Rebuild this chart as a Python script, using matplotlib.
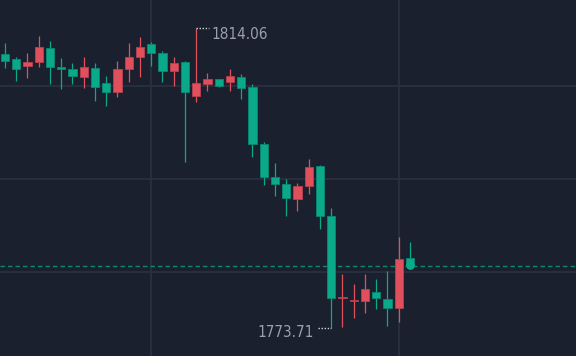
import numpy as np
import matplotlib
matplotlib.use("Agg")
import matplotlib.pyplot as plt
from matplotlib.patches import Rectangle

# OHLC candles (green = falling, red = rising)
opens = [1810.56, 1809.89, 1808.95, 1809.49, 1811.37, 1808.81, 1808.55, 1807.47, 1808.68, 1806.66,
         1805.45, 1808.55, 1810.16, 1811.91, 1810.70, 1808.28, 1809.49, 1804.91, 1806.53, 1807.20,
         1806.80, 1807.47, 1806.12, 1798.46, 1794.02, 1793.08, 1791.06, 1792.81, 1795.50, 1788.77,
         1777.75, 1777.34, 1777.34, 1778.55, 1777.61, 1776.40, 1783.13]
highs = [1812.04, 1810.16, 1810.70, 1812.98, 1812.31, 1810.03, 1809.35, 1810.16, 1809.35, 1807.60,
         1809.62, 1812.04, 1812.85, 1812.18, 1810.97, 1810.16, 1809.62, 1814.06, 1808.01, 1807.20,
         1808.55, 1807.87, 1806.53, 1798.73, 1795.90, 1793.75, 1793.21, 1796.44, 1795.63, 1789.85,
         1780.97, 1779.63, 1780.97, 1780.30, 1781.38, 1785.95, 1785.28]
lows = [1808.68, 1806.93, 1807.34, 1808.81, 1806.53, 1805.86, 1806.53, 1805.99, 1804.24, 1803.57,
        1804.78, 1806.80, 1807.47, 1808.95, 1806.80, 1806.26, 1796.04, 1804.11, 1805.59, 1806.12,
        1805.59, 1804.51, 1796.71, 1792.94, 1791.46, 1788.77, 1789.45, 1791.73, 1787.03, 1773.71,
        1773.84, 1775.06, 1775.73, 1776.27, 1773.98, 1774.52, 1782.00]
closes = [1809.62, 1808.55, 1809.49, 1811.50, 1808.81, 1808.55, 1807.60, 1808.81, 1806.12, 1805.45,
          1808.55, 1810.16, 1811.50, 1810.70, 1808.28, 1809.35, 1805.45, 1806.66, 1807.20, 1806.26,
          1807.60, 1805.99, 1798.46, 1794.02, 1793.08, 1791.20, 1792.81, 1795.36, 1788.77, 1777.75,
          1777.80, 1777.48, 1778.96, 1777.75, 1776.40, 1782.99, 1782.00]
grid_prices = [1806.25, 1793.75, 1781.25]
grid_bars = [13, 35]

bg = '#1b202e'
up_col = '#e04f5c'
down_col = '#0aa98a'

fig = plt.figure(figsize=(5.76, 3.56), dpi=100)
fig.patch.set_facecolor(bg)
ax = fig.add_axes([0, 0, 1, 1])
ax.set_facecolor(bg)

n = len(opens)
xs = np.arange(n)
w = 0.74
for i in xs:
    o, h, l, c = opens[i], highs[i], lows[i], closes[i]
    col = up_col if c >= o else down_col
    edge = '#b8414d' if c >= o else '#088a71'
    ax.vlines(i, l, h, color=col, lw=0.9, zorder=3)
    bot = min(o, c)
    ht = max(abs(c - o), 0.15)
    ax.add_patch(Rectangle((i - w / 2, bot), w, ht, facecolor=col, edgecolor=edge,
                           lw=0.6, zorder=4))

# last price line
last = closes[-1]
ax.axhline(last, color='#0b8a70', lw=1.0, ls=(0, (3.2, 2.2)), zorder=2)
ax.scatter([n - 1], [last + 0.15], s=40, color=down_col, zorder=5, lw=0)

# high / low markers
hi_i = int(np.argmax(highs))
lo_i = int(np.argmin(lows))
hi, lo = highs[hi_i], lows[lo_i]
ax.plot([hi_i, hi_i + 1.15], [hi, hi], color='#d0d4dc', lw=1.0, ls=(0, (1, 1.2)), zorder=5)
ax.plot([lo_i - 1.15, lo_i], [lo, lo], color='#d0d4dc', lw=1.0, ls=(0, (1, 1.2)), zorder=5)
txt_kw = dict(color='#9ba1ac', fontsize=11, family='DejaVu Sans', fontstretch='condensed',
              textcoords='offset points', va='baseline')
ax.annotate(f'{hi:.2f}', (hi_i, hi), xytext=(10.8, -7.9), ha='left', **txt_kw)
ax.annotate(f'{lo:.2f}', (lo_i, lo), xytext=(-12.4, -6.7), ha='right', **txt_kw)

ax.set_xlim(-0.444, 50.76)
ax.set_ylim(1769.94, 1817.83)
ax.set_yticks(grid_prices)
ax.set_xticks(grid_bars)
ax.grid(True, color='#2a3142', lw=1.2)
ax.tick_params(length=0, labelleft=False, labelbottom=False)
for s in ax.spines.values():
    s.set_visible(False)

fig.savefig('out.png', dpi=100, facecolor=bg)
